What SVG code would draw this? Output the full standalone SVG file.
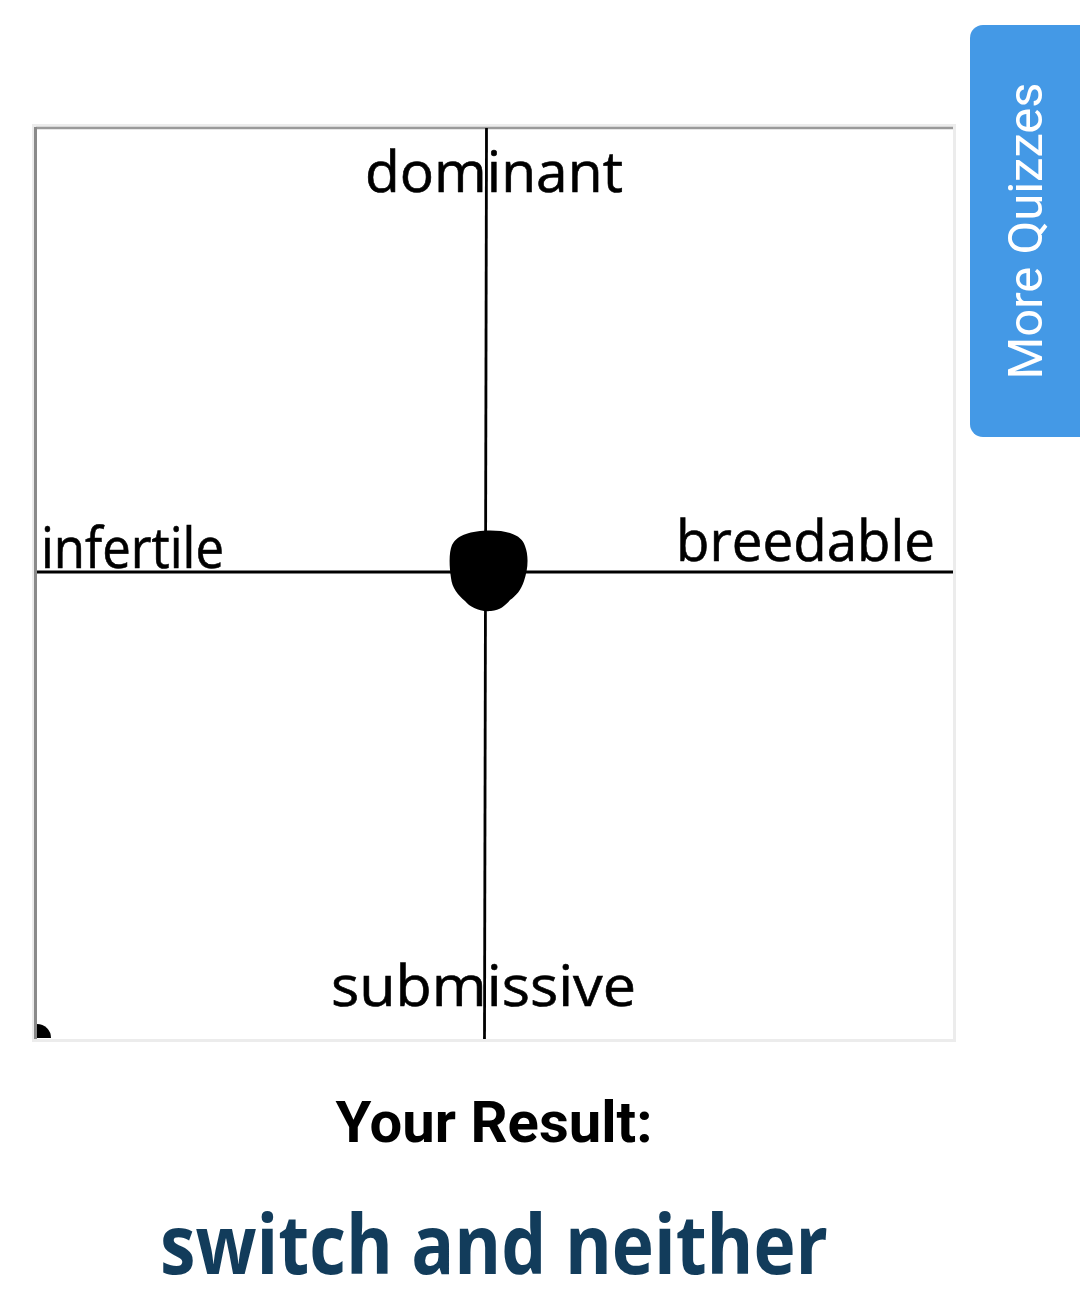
<svg xmlns="http://www.w3.org/2000/svg" width="1080" height="1313" viewBox="0 0 1080 1313">
<style>
.lbl{font-family:"Open Sans","Noto Sans","DejaVu Sans",sans-serif;font-size:56px;fill:#000;stroke:#000;stroke-width:0.6}
.axis{stroke:#000;stroke-width:2.8;fill:none}
</style>
<rect x="0" y="0" width="1080" height="1313" fill="#fff"/>
<g id="chart">
<rect x="33.5" y="125.5" width="921" height="915" fill="#fff" stroke="#ececec" stroke-width="3"/>
<line x1="36" y1="128" x2="953" y2="128" stroke="#9a9a9a" stroke-width="2.5"/>
<line x1="35.5" y1="127" x2="35.5" y2="1039" stroke="#8a8a8a" stroke-width="3"/>
</g>
<g id="axes">
<line class="axis" x1="486.5" y1="128" x2="484.5" y2="1039"/>
<line class="axis" x1="37" y1="572" x2="953" y2="572"/>
</g>
<g id="labels">
<text class="lbl" x="365" y="192" textLength="258" lengthAdjust="spacingAndGlyphs">dominant</text>
<text class="lbl" x="41" y="568" textLength="183" lengthAdjust="spacingAndGlyphs">infertile</text>
<text class="lbl" x="676" y="561" textLength="259" lengthAdjust="spacingAndGlyphs">breedable</text>
<text class="lbl" x="331" y="1006" textLength="305" lengthAdjust="spacingAndGlyphs">submissive</text>
</g>
<g id="marker">
<path d="M466 534 C476 530,498 529,510 533 C519 536,523 540,525 546 C529 556,528 570,524 581 C521 590,516 596,510 600 C505 606,500 610,491 611 C479 612,470 607,465 601 C458 595,452 588,451 578 C449 565,449 552,452 545 C455 539,460 536,466 534 Z" fill="#000"/>
<path d="M37 1024 A14 14 0 0 1 51 1038 L37 1038 Z" fill="#000"/>
</g>
<g id="more-quizzes">
<rect x="970" y="25" width="130" height="412" rx="13" fill="#4499e6"/>
<text transform="translate(1042 231) rotate(-90)" text-anchor="middle" font-family="Roboto,'Liberation Sans',sans-serif" font-size="49" fill="#fff">More Quizzes</text>
</g>
<g id="result">
<text x="494" y="1142" text-anchor="middle" font-family="Roboto,'Liberation Sans',sans-serif" font-weight="700" font-size="58" fill="#000">Your Result:</text>
<text x="160" y="1274" font-family="'Open Sans','Noto Sans',sans-serif" font-weight="700" font-size="82" fill="#123c5b" textLength="668" lengthAdjust="spacingAndGlyphs">switch and neither</text>
</g>
</svg>
